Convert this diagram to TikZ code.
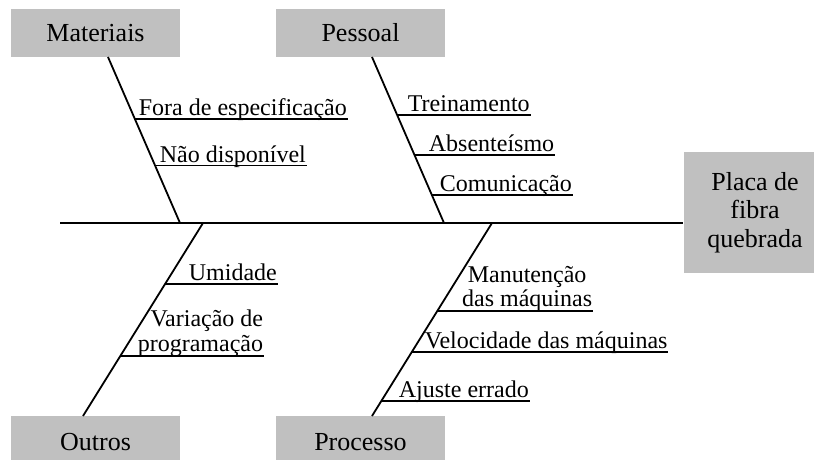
\documentclass[tikz,border=0pt]{standalone}
\usepackage{fontspec}
\setmainfont{Liberation Serif}
\usetikzlibrary{calc}
\definecolor{boxgray}{RGB}{192,192,192}
\begin{document}
\begin{tikzpicture}[x=1pt,y=-1pt,line width=1.8pt,
  catbox/.style={fill=boxgray,draw=none,minimum width=169pt,inner sep=0pt,font=\fontsize{26}{30}\selectfont},
  effbox/.style={fill=boxgray,draw=none,minimum width=142pt,minimum height=121pt,inner sep=0pt,align=center,font=\fontsize{26}{28.5}\selectfont},
  cause/.style={inner sep=0pt,font=\fontsize{24}{24.5}\selectfont},
  bone/.style={line width=1.8pt},
  under/.style={line width=1.8pt}]
\useasboundingbox (0,0) rectangle (814,459);
% category boxes
\node[catbox,minimum height=48pt] (mat) at (95.5,33) {Materiais};
\node[catbox,minimum height=48pt] (pes) at (360.5,33) {Pessoal};
\node[catbox,minimum height=52pt] (out) at (95.5,442) {Outros};
\node[catbox,minimum height=52pt] (pro) at (360.5,442) {Processo};
% effect
\node[effbox] (eff) at (755,212.5) {Placa de\\fibra\\quebrada};
% spine
\coordinate (spL) at (60,223);
\draw[bone] (spL) -- (spL -| eff.west);
% branch end points
\coordinate (mt) at (108,57);  \coordinate (ms) at (180,223);
\coordinate (pt) at (372,57);  \coordinate (ps) at (444,223);
\coordinate (os) at (203,223); \coordinate (ob) at (83,416);
\coordinate (rs) at (492,223); \coordinate (rb) at (372,416);
\draw[bone] (mt) -- (ms);
\draw[bone] (pt) -- (ps);
\draw[bone] (os) -- (ob);
\draw[bone] (rs) -- (rb);
% causes: Materiais
\node[cause,anchor=base west] (f1) at (138,115.5) {Fora de especificação};
\node[cause,anchor=base west] (f2) at (159,162) {Não disponível};
\coordinate (f1a) at ($(mt)!0.3735!(ms)$);
\coordinate (f2a) at ($(mt)!0.6536!(ms)$);
\draw[under] (f1a) -- (f1a -| f1.east);
\draw[under] (f2a) -- (f2a -| f2.east);
% causes: Pessoal
\node[cause,anchor=base west] (p1) at (407,111.5) {Treinamento};
\node[cause,anchor=base west] (p2) at (428,151.5) {Absenteísmo};
\node[cause,anchor=base west] (p3) at (439,191.5) {Comunicação};
\coordinate (p1a) at ($(pt)!0.3494!(ps)$);
\coordinate (p2a) at ($(pt)!0.5904!(ps)$);
\coordinate (p3a) at ($(pt)!0.8313!(ps)$);
\draw[under] (p1a) -- (p1a -| p1.east);
\draw[under] (p2a) -- (p2a -| p2.east);
\draw[under] (p3a) -- (p3a -| p3.east);
% causes: Outros
\node[cause,anchor=base west] (o1) at (188,280.5) {Umidade};
\node[cause,anchor=south east,align=right] (o2) at (264,357.5) {Variação de\\programação};
\coordinate (o1a) at ($(os)!0.3161!(ob)$);
\coordinate (o2a) at ($(os)!0.689!(ob)$);
\draw[under] (o1a) -- (o1a -| o1.east);
\draw[under] (o2a) -- (o2a -| o2.east);
% causes: Processo
\node[cause,anchor=south east,align=center] (r1) at (593,312.5) {Manutenção\\das máquinas};
\node[cause,anchor=base west] (r2) at (424,348.5) {Velocidade das máquinas};
\node[cause,anchor=base west] (r3) at (398,397.5) {Ajuste errado};
\coordinate (r1a) at ($(rs)!0.456!(rb)$);
\coordinate (r2a) at ($(rs)!0.668!(rb)$);
\coordinate (r3a) at ($(rs)!0.922!(rb)$);
\draw[under] (r1a) -- (r1a -| r1.east);
\draw[under] (r2a) -- (r2a -| r2.east);
\draw[under] (r3a) -- (r3a -| r3.east);
\end{tikzpicture}
\end{document}
